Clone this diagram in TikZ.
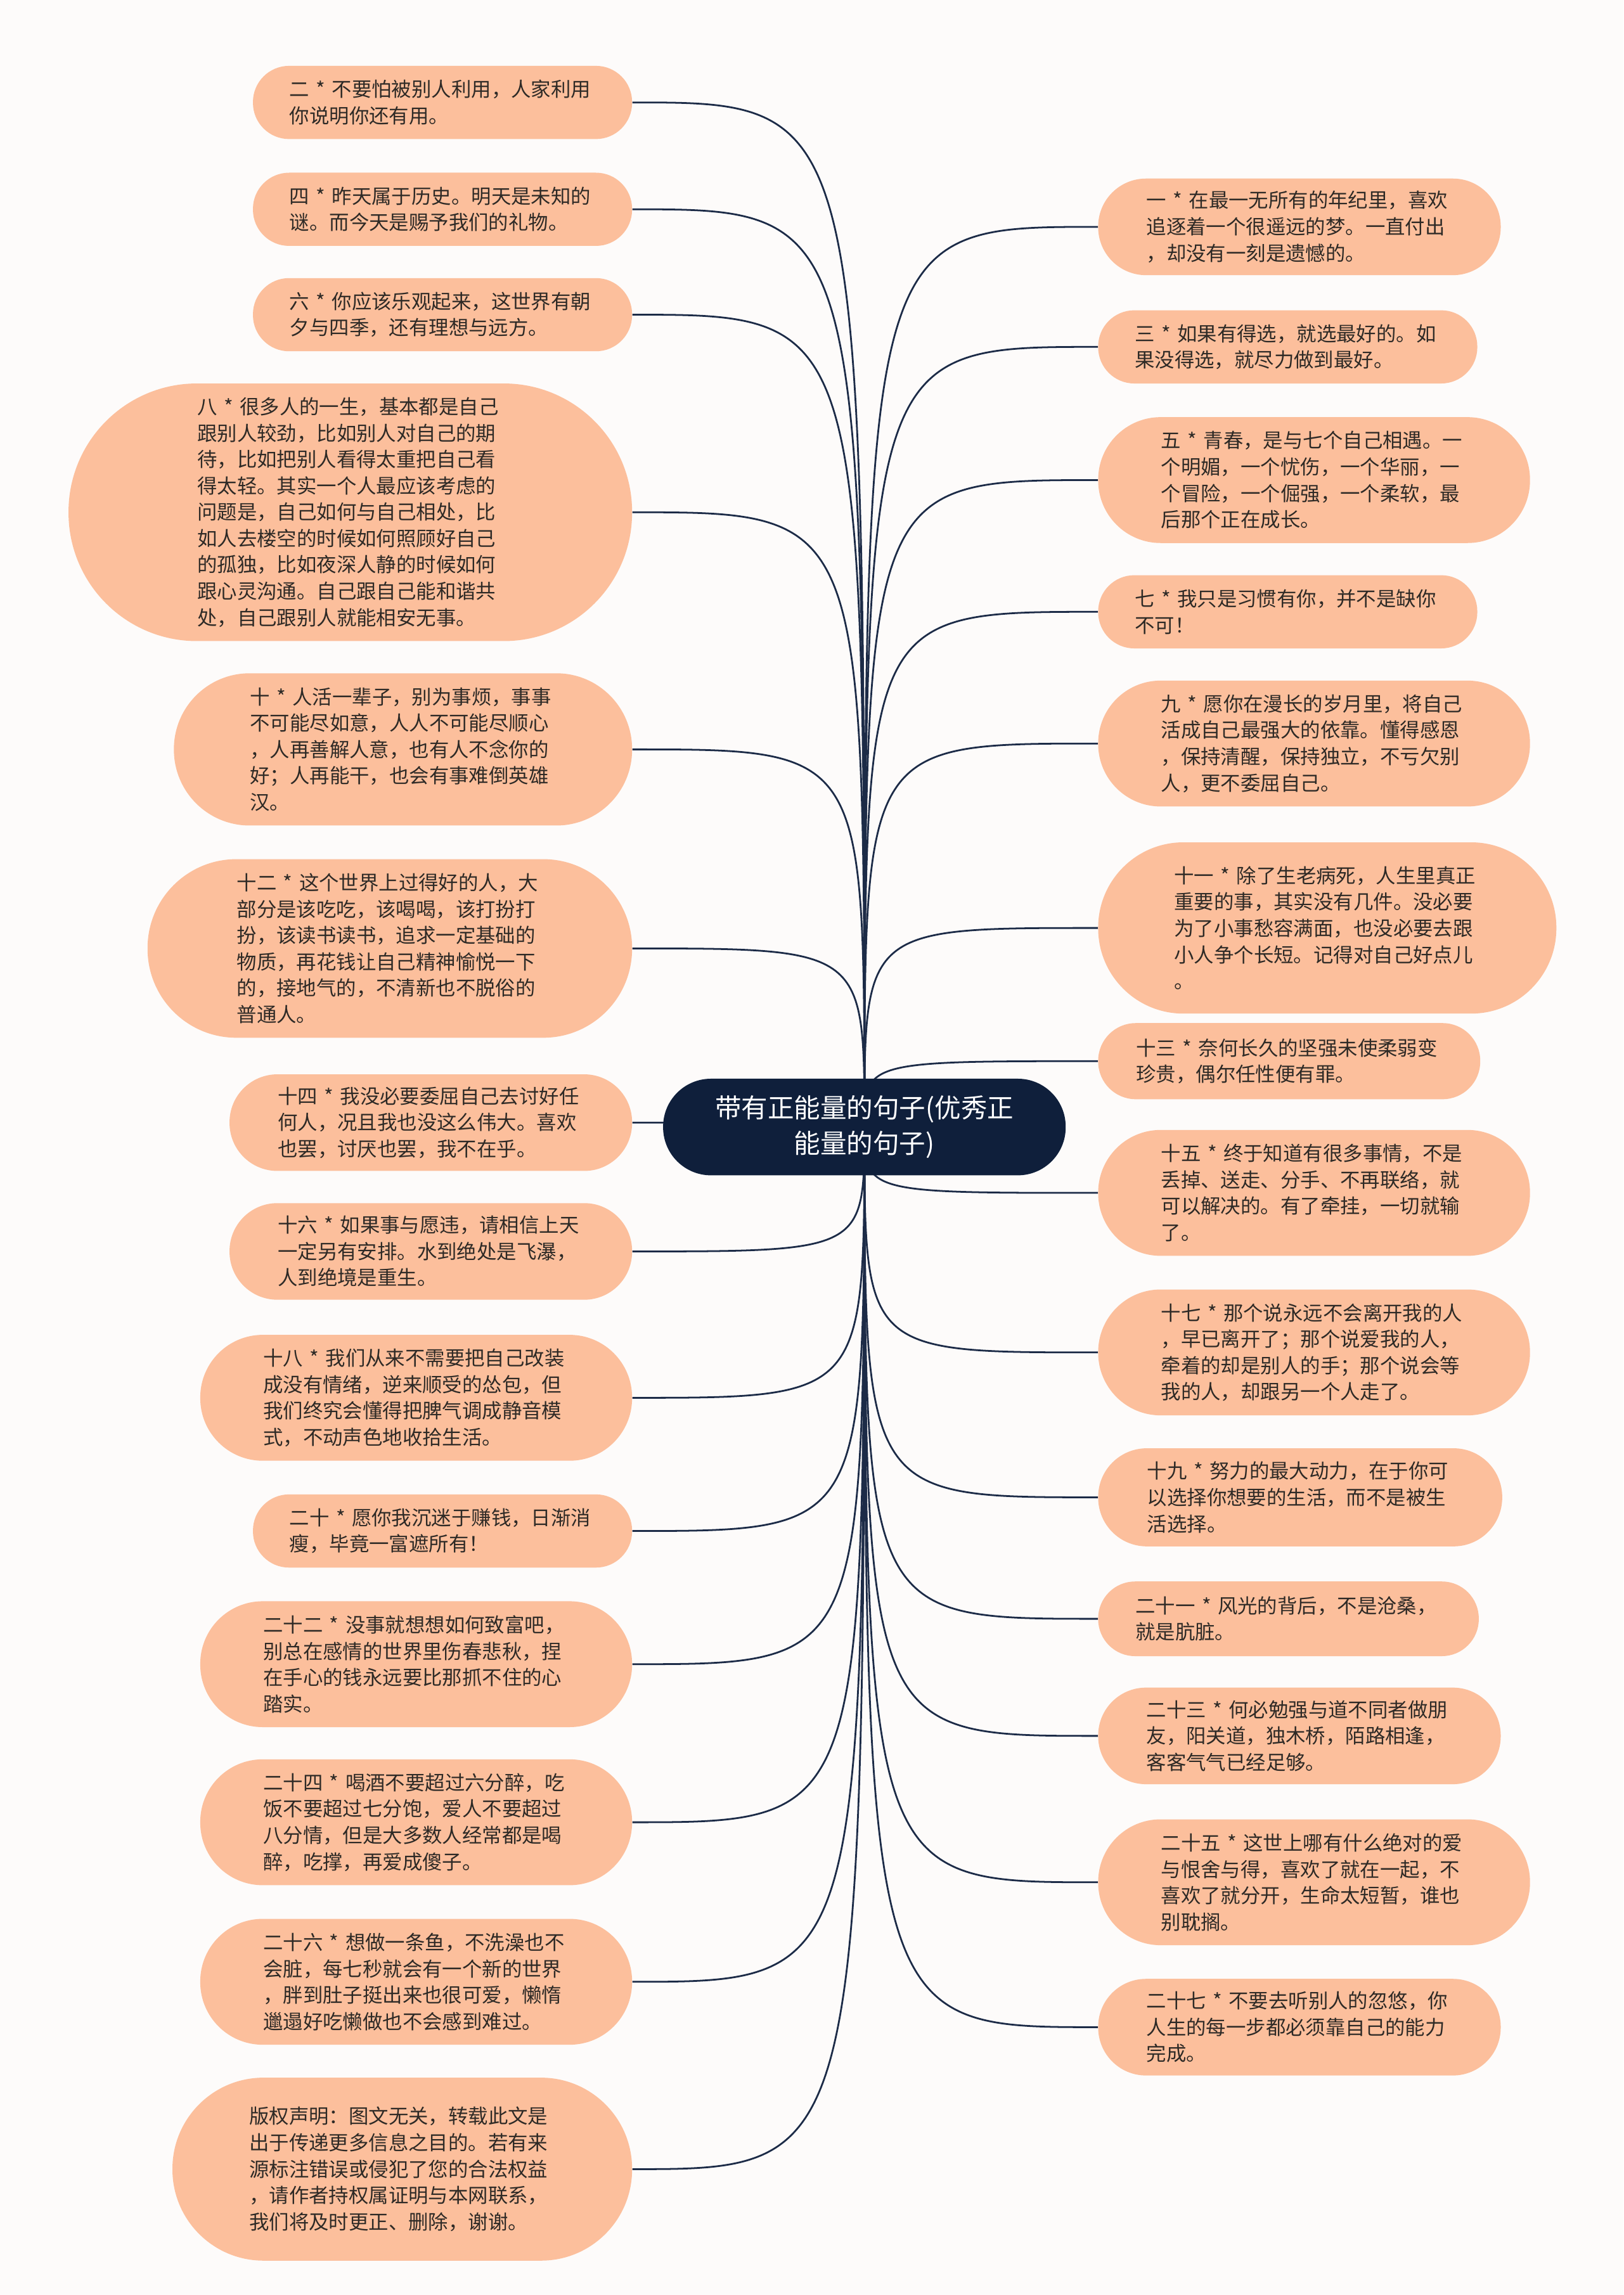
\documentclass[tikz,border=0pt]{standalone}
\usepackage{fontspec}
\setmainfont{Noto Sans CJK SC}
\usetikzlibrary{positioning, backgrounds}
\definecolor{peach}{HTML}{FCBF9C}
\definecolor{navy}{HTML}{0F1F3B}
\definecolor{inkline}{HTML}{1C2B47}
\definecolor{paper}{HTML}{FDFBFA}
\definecolor{textbrown}{HTML}{2E2A26}
\tikzset{pill/.style={minimum height=#1, inner xsep=#1/2, rounded corners=#1/2-0.3pt}}
\tikzstyle{saying} = [rectangle, fill=peach, text=textbrown, text width=209pt, align=left, inner ysep=6pt, font=\fontsize{13.6}{18}\selectfont]
\tikzstyle{leftsaying} = [saying, anchor=east]
\tikzstyle{rightsaying} = [saying, anchor=west]
\tikzstyle{rootnode} = [rectangle, fill=navy, text=white, text width=209pt, align=center, inner ysep=6pt, pill=66pt, font=\fontsize{18}{24}\selectfont]
\tikzstyle{link} = [draw=inkline, line width=1.2pt]

\begin{document}
\begin{tikzpicture}[x=1pt, y=-1pt]
    \useasboundingbox (0,0) rectangle (1109,1568);
    \begin{scope}[on background layer]
        \fill[paper] (0,0) rectangle (1109,1568);
    \end{scope}

    \node (root) [rootnode] at (590.5,770) {带有正能量的句子(优秀正\\能量的句子)};

    % left column
    \node (n2) [leftsaying, pill=50pt] at (432,70) {二~*~不要怕被别人利用，人家利用\\你说明你还有用。};
    \node (n4) [leftsaying, pill=50pt] at (432,143) {四~*~昨天属于历史。明天是未知的\\谜。而今天是赐予我们的礼物。};
    \node (n6) [leftsaying, pill=50pt] at (432,215) {六~*~你应该乐观起来，这世界有朝\\夕与四季，还有理想与远方。};
    \node (n8) [leftsaying, pill=176pt] at (432,350) {八~*~很多人的一生，基本都是自己\\跟别人较劲，比如别人对自己的期\\待，比如把别人看得太重把自己看\\得太轻。其实一个人最应该考虑的\\问题是，自己如何与自己相处，比\\如人去楼空的时候如何照顾好自己\\的孤独，比如夜深人静的时候如何\\跟心灵沟通。自己跟自己能和谐共\\处，自己跟别人就能相安无事。};
    \node (n10) [leftsaying, pill=104pt] at (432,512) {十~*~人活一辈子，别为事烦，事事\\不可能尽如意，人人不可能尽顺心\\，人再善解人意，也有人不念你的\\好；人再能干，也会有事难倒英雄\\汉。};
    \node (n12) [leftsaying, pill=122pt] at (432,648) {十二~*~这个世界上过得好的人，大\\部分是该吃吃，该喝喝，该打扮打\\扮，该读书读书，追求一定基础的\\物质，再花钱让自己精神愉悦一下\\的，接地气的，不清新也不脱俗的\\普通人。};
    \node (n14) [leftsaying, pill=66pt] at (432,767) {十四~*~我没必要委屈自己去讨好任\\何人，况且我也没这么伟大。喜欢\\也罢，讨厌也罢，我不在乎。};
    \node (n16) [leftsaying, pill=66pt] at (432,855) {十六~*~如果事与愿违，请相信上天\\一定另有安排。水到绝处是飞瀑，\\人到绝境是重生。};
    \node (n18) [leftsaying, pill=86pt] at (432,955) {十八~*~我们从来不需要把自己改装\\成没有情绪，逆来顺受的怂包，但\\我们终究会懂得把脾气调成静音模\\式，不动声色地收拾生活。};
    \node (n20) [leftsaying, pill=50pt] at (432,1046) {二十~*~愿你我沉迷于赚钱，日渐消\\瘦，毕竟一富遮所有！};
    \node (n22) [leftsaying, pill=86pt] at (432,1137) {二十二~*~没事就想想如何致富吧，\\别总在感情的世界里伤春悲秋，捏\\在手心的钱永远要比那抓不住的心\\踏实。};
    \node (n24) [leftsaying, pill=86pt] at (432,1245) {二十四~*~喝酒不要超过六分醉，吃\\饭不要超过七分饱，爱人不要超过\\八分情，但是大多数人经常都是喝\\醉，吃撑，再爱成傻子。};
    \node (n26) [leftsaying, pill=86pt] at (432,1354) {二十六~*~想做一条鱼，不洗澡也不\\会脏，每七秒就会有一个新的世界\\，胖到肚子挺出来也很可爱，懒惰\\邋遢好吃懒做也不会感到难过。};
    \node (copyright) [leftsaying, pill=125pt, inner xsep=52.5pt] at (432,1482) {版权声明：图文无关，转载此文是\\出于传递更多信息之目的。若有来\\源标注错误或侵犯了您的合法权益\\，请作者持权属证明与本网联系，\\我们将及时更正、删除，谢谢。};

    % right column
    \node (n1) [rightsaying, pill=66pt] at (750,155) {一~*~在最一无所有的年纪里，喜欢\\追逐着一个很遥远的梦。一直付出\\，却没有一刻是遗憾的。};
    \node (n3) [rightsaying, pill=50pt] at (750,237) {三~*~如果有得选，就选最好的。如\\果没得选，就尽力做到最好。};
    \node (n5) [rightsaying, pill=86pt] at (750,328) {五~*~青春，是与七个自己相遇。一\\个明媚，一个忧伤，一个华丽，一\\个冒险，一个倔强，一个柔软，最\\后那个正在成长。};
    \node (n7) [rightsaying, pill=50pt] at (750,418) {七~*~我只是习惯有你，并不是缺你\\不可！};
    \node (n9) [rightsaying, pill=86pt] at (750,508) {九~*~愿你在漫长的岁月里，将自己\\活成自己最强大的依靠。懂得感恩\\，保持清醒，保持独立，不亏欠别\\人，更不委屈自己。};
    \node (n11) [rightsaying, pill=117pt, inner xsep=52pt] at (750,634) {十一~*~除了生老病死，人生里真正\\重要的事，其实没有几件。没必要\\为了小事愁容满面，也没必要去跟\\小人争个长短。记得对自己好点儿\\。};
    \node (n13) [rightsaying, pill=52pt] at (750,725) {十三~*~奈何长久的坚强未使柔弱变\\珍贵，偶尔任性便有罪。};
    \node (n15) [rightsaying, pill=86pt] at (750,815) {十五~*~终于知道有很多事情，不是\\丢掉、送走、分手、不再联络，就\\可以解决的。有了牵挂，一切就输\\了。};
    \node (n17) [rightsaying, pill=86pt] at (750,924) {十七~*~那个说永远不会离开我的人\\，早已离开了；那个说爱我的人，\\牵着的却是别人的手；那个说会等\\我的人，却跟另一个人走了。};
    \node (n19) [rightsaying, pill=67pt] at (750,1023) {十九~*~努力的最大动力，在于你可\\以选择你想要的生活，而不是被生\\活选择。};
    \node (n21) [rightsaying, pill=51pt] at (750,1106) {二十一~*~风光的背后，不是沧桑，\\就是肮脏。};
    \node (n23) [rightsaying, pill=66pt] at (750,1186) {二十三~*~何必勉强与道不同者做朋\\友，阳关道，独木桥，陌路相逢，\\客客气气已经足够。};
    \node (n25) [rightsaying, pill=86pt] at (750,1286) {二十五~*~这世上哪有什么绝对的爱\\与恨舍与得，喜欢了就在一起，不\\喜欢了就分开，生命太短暂，谁也\\别耽搁。};
    \node (n27) [rightsaying, pill=66pt] at (750,1385) {二十七~*~不要去听别人的忽悠，你\\人生的每一步都必须靠自己的能力\\完成。};

    % connectors, behind the nodes
    \begin{scope}[on background layer]
        \draw[link] (root.center) .. controls (root.center |- n2.east) .. (n2.east);
        \draw[link] (root.center) .. controls (root.center |- n4.east) .. (n4.east);
        \draw[link] (root.center) .. controls (root.center |- n6.east) .. (n6.east);
        \draw[link] (root.center) .. controls (root.center |- n8.east) .. (n8.east);
        \draw[link] (root.center) .. controls (root.center |- n10.east) .. (n10.east);
        \draw[link] (root.center) .. controls (root.center |- n12.east) .. (n12.east);
        \draw[link] (root.center) .. controls (root.center |- n14.east) .. (n14.east);
        \draw[link] (root.center) .. controls (root.center |- n16.east) .. (n16.east);
        \draw[link] (root.center) .. controls (root.center |- n18.east) .. (n18.east);
        \draw[link] (root.center) .. controls (root.center |- n20.east) .. (n20.east);
        \draw[link] (root.center) .. controls (root.center |- n22.east) .. (n22.east);
        \draw[link] (root.center) .. controls (root.center |- n24.east) .. (n24.east);
        \draw[link] (root.center) .. controls (root.center |- n26.east) .. (n26.east);
        \draw[link] (root.center) .. controls (root.center |- copyright.east) .. (copyright.east);
        \draw[link] (root.center) .. controls (root.center |- n1.west) .. (n1.west);
        \draw[link] (root.center) .. controls (root.center |- n3.west) .. (n3.west);
        \draw[link] (root.center) .. controls (root.center |- n5.west) .. (n5.west);
        \draw[link] (root.center) .. controls (root.center |- n7.west) .. (n7.west);
        \draw[link] (root.center) .. controls (root.center |- n9.west) .. (n9.west);
        \draw[link] (root.center) .. controls (root.center |- n11.west) .. (n11.west);
        \draw[link] (root.center) .. controls (root.center |- n13.west) .. (n13.west);
        \draw[link] (root.center) .. controls (root.center |- n15.west) .. (n15.west);
        \draw[link] (root.center) .. controls (root.center |- n17.west) .. (n17.west);
        \draw[link] (root.center) .. controls (root.center |- n19.west) .. (n19.west);
        \draw[link] (root.center) .. controls (root.center |- n21.west) .. (n21.west);
        \draw[link] (root.center) .. controls (root.center |- n23.west) .. (n23.west);
        \draw[link] (root.center) .. controls (root.center |- n25.west) .. (n25.west);
        \draw[link] (root.center) .. controls (root.center |- n27.west) .. (n27.west);
    \end{scope}
\end{tikzpicture}
\end{document}
